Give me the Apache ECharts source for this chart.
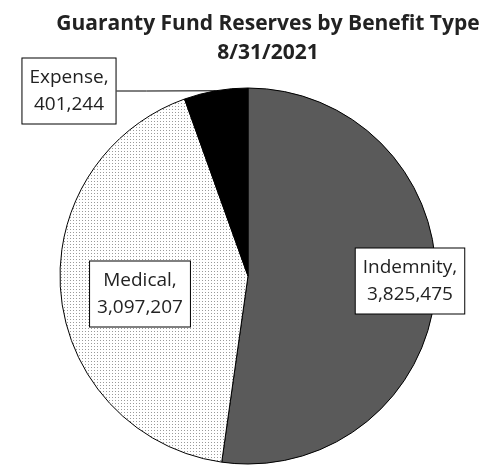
<!DOCTYPE html>
<html>
<head>
<meta charset="utf-8">
<script src="https://cdn.jsdelivr.net/npm/echarts@6/dist/echarts.min.js"></script>
<style>
  html, body { margin: 0; padding: 0; background: #fff; }
  #chart { width: 486px; height: 469px; }
</style>
</head>
<body>
<div id="chart"></div>
<script>
var categories = ["Indemnity", "Medical", "Expense"];
var reserves = [3825475, 3097207, 401244];

// dotted fill for the medical slice
function dotPattern() {
  var c = document.createElement("canvas");
  c.width = 3;
  c.height = 3;
  var ctx = c.getContext("2d");
  ctx.fillStyle = "#fff";
  ctx.fillRect(0, 0, 3, 3);
  ctx.fillStyle = "#9a9a9a";
  ctx.fillRect(1, 1, 1, 1);
  return c;
}

// label box centres (pixels)
var labelSpots = {
  Indemnity: [410, 281],
  Medical: [140, 294],
  Expense: [69, 91]
};

var fills = ["#5a5a5a", { image: dotPattern(), repeat: "repeat" }, "#000"];
var labelPos = ["inside", "inside", "outside"];

var chart = echarts.init(document.getElementById("chart"));
var option = {
  animation: false,
  title: {
    text: "Guaranty Fund Reserves by Benefit Type\n8/31/2021",
    left: 263,
    top: 5,
    textAlign: "center",
    textStyle: {
      fontFamily: "Open Sans",
      fontWeight: "bold",
      fontSize: 21,
      lineHeight: 29,
      color: "#222"
    }
  },
  series: [
    {
      type: "pie",
      center: [248, 276],
      radius: 188,
      startAngle: 90,
      clockwise: true,
      data: categories.map(function (name, i) {
        return {
          name: name,
          value: reserves[i],
          itemStyle: { color: fills[i] },
          label: { position: labelPos[i] },
          labelLine: { show: labelPos[i] === "outside" }
        };
      }),
      itemStyle: {
        borderColor: "#000",
        borderWidth: 1
      },
      label: {
        show: true,
        formatter: function (p) {
          return p.name + ",\n" + p.value.toLocaleString("en-US");
        },
        fontFamily: "Open Sans",
        fontSize: 19,
        lineHeight: 27,
        color: "#222",
        align: "center",
        overflow: "none",
        backgroundColor: "#fff",
        borderColor: "#000",
        borderWidth: 1,
        padding: [6, 7, 5, 7]
      },
      labelLine: {
        lineStyle: { color: "#000", width: 1 }
      },
      labelLayout: function (params) {
        var spot = labelSpots[categories[params.dataIndex]];
        return {
          x: spot[0],
          y: spot[1],
          align: "center",
          verticalAlign: "middle"
        };
      }
    }
  ]
};
chart.setOption(option);
</script>
</body>
</html>
